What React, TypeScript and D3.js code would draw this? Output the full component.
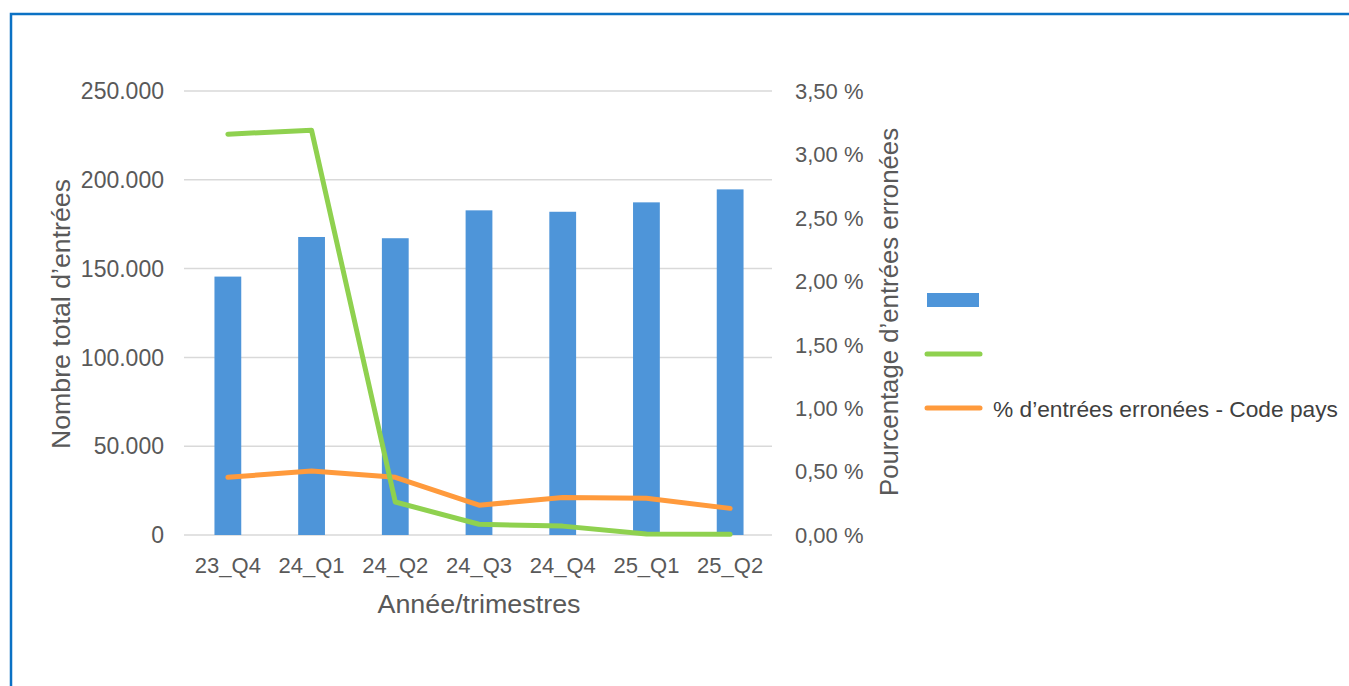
import React from 'react';
import * as d3 from 'd3';

const categories = ['23_Q4', '24_Q1', '24_Q2', '24_Q3', '24_Q4', '25_Q1', '25_Q2'];
const totalEntries = [145500, 167800, 167100, 182800, 182000, 187300, 194600];
const pctInvalid = [3.16, 3.19, 0.26, 0.085, 0.07, 0.008, 0.005];
const pctCountryCode = [0.455, 0.505, 0.455, 0.235, 0.295, 0.29, 0.21];
const leftTicks = [0, 50000, 100000, 150000, 200000, 250000];
const rightTicks = [0, 0.5, 1, 1.5, 2, 2.5, 3, 3.5];
const legendLabels = ['', '', '% d\u2019entrées erronées - Code pays'];

const W = 1349;
const H = 686;
const X0 = 186;
const X1 = 772;
const Y0 = 535;
const Y1 = 91;
const FONT = '"Liberation Sans", Arial, sans-serif';
const TXT = '#595959';
const BLUE = '#4e95d9';
const GREEN = '#8fd14f';
const ORANGE = '#ff9a3c';

const loc = d3.formatLocale({ decimal: ',', thousands: '.', grouping: [3], currency: ['', '€'] });
const fmtLeft = loc.format(',.0f');
const fmtRight = (v: number) => loc.format('.2f')(v) + ' %';

export default function App() {
  const x = d3.scaleBand<string>().domain(categories).range([X0, X1]).paddingInner(0.68).paddingOuter(0.34);
  const yL = d3.scaleLinear().domain([0, 250000]).range([Y0, Y1]);
  const yR = d3.scaleLinear().domain([0, 3.5]).range([Y0, Y1]);
  const cx = (c: string) => (x(c) as number) + x.bandwidth() / 2;

  const line = d3.line<number>().x((_, i) => cx(categories[i])).y((d) => yR(d));
  const legendY = [300, 354, 408];

  return (
    <svg width={W} height={H} style={{ position: 'absolute', left: 0, top: 0, background: '#fff' }} fontFamily={FONT}>
      <rect x={0} y={0} width={W} height={H} fill="#fff" />
      {/* frame */}
      <path d={`M11,${H + 5} L11,14 L${W + 5},14`} fill="none" stroke="#0b71c4" strokeWidth={2.5} />

      {/* gridlines */}
      {leftTicks.map((t) => (
        <line key={'g' + t} x1={X0 - 2} x2={X1} y1={yL(t)} y2={yL(t)} stroke="#d9d9d9" strokeWidth={1.5} />
      ))}

      {/* bars */}
      {categories.map((c, i) => (
        <rect key={'b' + c} x={x(c)} y={yL(totalEntries[i])} width={x.bandwidth()} height={Y0 - yL(totalEntries[i])} fill={BLUE} />
      ))}

      {/* lines */}
      <path d={line(pctCountryCode) || ''} fill="none" stroke={ORANGE} strokeWidth={5} strokeLinejoin="round" strokeLinecap="round" />
      <path d={line(pctInvalid) || ''} fill="none" stroke={GREEN} strokeWidth={5} strokeLinejoin="round" strokeLinecap="round" />

      {/* left ticks */}
      {leftTicks.map((t) => (
        <text key={'l' + t} x={164} y={yL(t)} dy="0.36em" textAnchor="end" fontSize={23} fill={TXT}>
          {fmtLeft(t)}
        </text>
      ))}
      {/* right ticks */}
      {rightTicks.map((t) => (
        <text key={'r' + t} x={795} y={yR(t)} dy="0.36em" textAnchor="start" fontSize={22} fill={TXT}>
          {fmtRight(t)}
        </text>
      ))}
      {/* x labels */}
      {categories.map((c) => (
        <text key={'x' + c} x={cx(c)} y={573} textAnchor="middle" fontSize={22} fill={TXT}>
          {c}
        </text>
      ))}

      {/* axis titles */}
      <text x={(X0 + X1) / 2} y={613} textAnchor="middle" fontSize={25} fill={TXT} textLength={203} lengthAdjust="spacingAndGlyphs">
        Année/trimestres
      </text>
      <text transform={`translate(70,314) rotate(-90)`} textAnchor="middle" fontSize={25} fill={TXT} textLength={270} lengthAdjust="spacingAndGlyphs">
        Nombre total d’entrées
      </text>
      <text transform={`translate(898,312) rotate(-90)`} textAnchor="middle" fontSize={25} fill={TXT} textLength={368} lengthAdjust="spacingAndGlyphs">
        Pourcentage d’entrées erronées
      </text>

      {/* legend */}
      <rect x={927} y={293} width={52} height={14} fill={BLUE} />
      <line x1={927} x2={980} y1={354} y2={354} stroke={GREEN} strokeWidth={5} strokeLinecap="round" />
      <line x1={927} x2={980} y1={408} y2={408} stroke={ORANGE} strokeWidth={5} strokeLinecap="round" />
      {legendLabels.map((l, i) =>
        l ? (
          <text key={'lg' + i} x={993} y={legendY[i] + 1} dy="0.36em" fontSize={22} fill="#404040" textLength={345} lengthAdjust="spacingAndGlyphs">
            {l}
          </text>
        ) : null
      )}
    </svg>
  );
}
